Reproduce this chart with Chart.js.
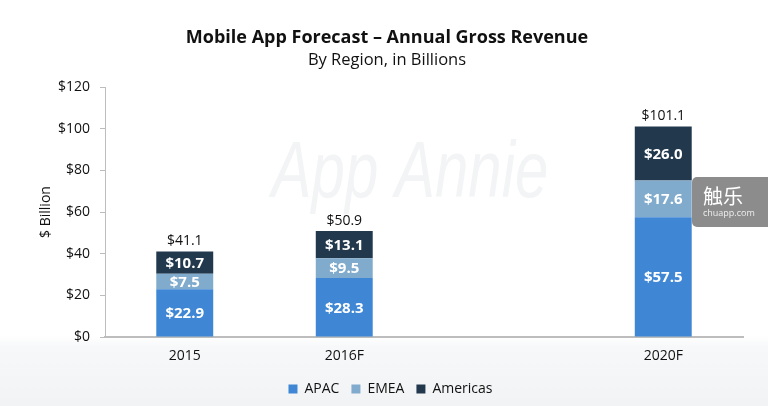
<!DOCTYPE html>
<html>
<head>
<meta charset="utf-8">
<script src="https://cdn.jsdelivr.net/npm/chart.js@4/dist/chart.umd.min.js"></script>
<style>
html,body{margin:0;padding:0;background:#fff;}
#wrap{width:768px;height:406px;position:relative;}
</style>
</head>
<body>
<div id="wrap"><canvas id="c" width="768" height="406"></canvas></div>
<script>
const categories = ['2015', '2016F', '', '2020F'];
const apac = [22.9, 28.3, null, 57.5];
const emea = [7.5, 9.5, null, 17.6];
const americas = [10.7, 13.1, null, 26.0];
const totals = [41.1, 50.9, null, 101.1];
const yTicks = [0, 20, 40, 60, 80, 100, 120];
const seriesNames = ['APAC', 'EMEA', 'Americas'];
const colors = ['#3f87d5', '#80abcc', '#22384d'];

const FONT = '"Open Sans", Lato, sans-serif';

const bgPlugin = {
  id: 'bg',
  beforeDraw(chart) {
    const ctx = chart.ctx;
    ctx.save();
    ctx.fillStyle = '#ffffff';
    ctx.fillRect(0, 0, 768, 406);
    const g = ctx.createLinearGradient(0, 336, 0, 406);
    g.addColorStop(0, '#ffffff');
    g.addColorStop(0.15, '#f7f8f9');
    g.addColorStop(1, '#f2f3f5');
    ctx.fillStyle = g;
    ctx.fillRect(0, 336, 768, 70);
    // faint watermark
    ctx.save();
    ctx.translate(410, 175);
    ctx.scale(0.75, 1);
    ctx.fillStyle = '#f3f4f5';
    ctx.font = 'italic 80px "Liberation Sans", sans-serif';
    ctx.textAlign = 'center';
    ctx.textBaseline = 'middle';
    ctx.fillText('App Annie', 0, 0);
    ctx.restore();
    // titles
    ctx.textAlign = 'center';
    ctx.textBaseline = 'middle';
    ctx.fillStyle = '#111';
    ctx.font = 'bold 18px ' + FONT;
    ctx.fillText('Mobile App Forecast \u2013 Annual Gross Revenue', 387, 38);
    ctx.font = '16.5px ' + FONT;
    ctx.fillText('By Region, in Billions', 387, 60);
    ctx.restore();
  },
  afterDraw(chart) {
    const ctx = chart.ctx;
    ctx.save();
    // chuapp badge
    ctx.fillStyle = 'rgba(128,128,128,0.9)';
    const x = 692, y = 177, w = 80, h = 50, r = 5;
    ctx.beginPath();
    ctx.moveTo(x + r, y);
    ctx.lineTo(x + w, y);
    ctx.lineTo(x + w, y + h);
    ctx.lineTo(x + r, y + h);
    ctx.arcTo(x, y + h, x, y + h - r, r);
    ctx.lineTo(x, y + r);
    ctx.arcTo(x, y, x + r, y, r);
    ctx.fill();
    ctx.fillStyle = '#fff';
    ctx.textAlign = 'left';
    ctx.textBaseline = 'middle';
    ctx.font = '20px "Noto Sans CJK SC", sans-serif';
    ctx.fillText('触乐', 703, 196);
    ctx.font = '9px ' + FONT;
    ctx.fillStyle = '#eee';
    ctx.fillText('chuapp.com', 703, 213);
    ctx.restore();
  }
};

const labelPlugin = {
  id: 'labels',
  afterDatasetsDraw(chart) {
    const ctx = chart.ctx;
    ctx.save();
    ctx.textAlign = 'center';
    ctx.textBaseline = 'middle';
    chart.data.datasets.forEach((ds, di) => {
      const meta = chart.getDatasetMeta(di);
      meta.data.forEach((el, i) => {
        const v = ds.data[i];
        if (v == null) return;
        const yc = (el.y + el.base) / 2;
        ctx.fillStyle = '#ffffff';
        ctx.font = 'bold 15px ' + FONT;
        ctx.fillText('$' + v.toFixed(1), el.x, yc + 1);
      });
    });
    const topMeta = chart.getDatasetMeta(chart.data.datasets.length - 1);
    topMeta.data.forEach((el, i) => {
      const t = totals[i];
      if (t == null) return;
      ctx.fillStyle = '#111';
      ctx.font = '14px ' + FONT;
      ctx.textBaseline = 'bottom';
      ctx.fillText('$' + t.toFixed(1), el.x, el.y - 3);
      ctx.textBaseline = 'middle';
    });
    ctx.restore();
  }
};

const datasets = [apac, emea, americas].map((d, i) => ({
  label: seriesNames[i],
  data: d,
  backgroundColor: colors[i],
  borderWidth: 0,
  categoryPercentage: 0.357,
  barPercentage: 1.0
}));

new Chart(document.getElementById('c'), {
  type: 'bar',
  data: { labels: categories, datasets },
  options: {
    responsive: false,
    animation: false,
    layout: { padding: { top: 87, right: 25, left: 38, bottom: 0 } },
    plugins: {
      legend: {
        position: 'bottom',
        labels: {
          boxWidth: 9, boxHeight: 9, padding: 12,
          color: '#111',
          font: { family: FONT, size: 14 }
        }
      },
      tooltip: { enabled: false },
      title: { display: false }
    },
    scales: {
      x: {
        stacked: true,
        grid: { display: false, drawTicks: false },
        border: { color: '#bdbdbd', width: 2 },
        ticks: { color: '#111', font: { family: FONT, size: 14 }, padding: 11 },
        afterFit(s) { s.height = 33; }
      },
      y: {
        stacked: true,
        min: 0, max: 120,
        afterBuildTicks(s) { s.ticks = yTicks.map(v => ({ value: v })); },
        grid: { drawOnChartArea: false, drawTicks: true, tickLength: 5, color: '#bdbdbd' },
        border: { color: '#bdbdbd', width: 1 },
        ticks: {
          color: '#111', font: { family: FONT, size: 14 }, padding: 10,
          callback: v => '$' + v
        },
        title: { display: true, text: '$ Billion', color: '#111', font: { family: FONT, size: 14 }, padding: { top: 0, bottom: 0 } },
        afterFit(s) { s.width = 67; }
      }
    }
  },
  plugins: [bgPlugin, labelPlugin]
});
</script>
</body>
</html>
